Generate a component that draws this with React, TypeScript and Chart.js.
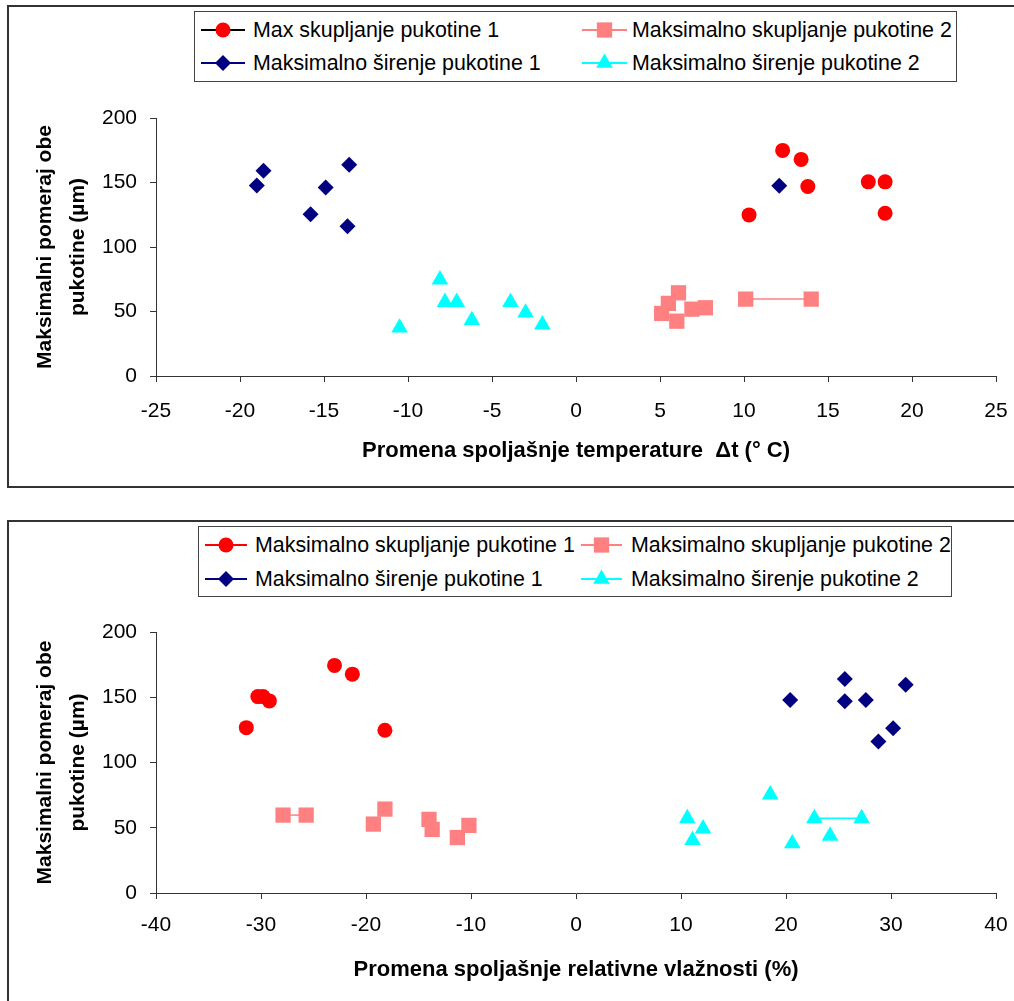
import React, { useEffect, useRef } from "react";
import { Chart, registerables } from "chart.js";

Chart.register(...registerables);

const FONT = "'Liberation Sans', Arial, Helvetica, sans-serif";

// ---------- shared ----------
const yTickValues = [0, 50, 100, 150, 200];
const yTitleLines = ["Maksimalni pomeraj obe", "pukotine (µm)"];
const seriesColors = ["#FF0000", "#FF8080", "#000080", "#00FFFF"];
const seriesShapes = ["circle", "rect", "rectRot", "triangle"];

// ---------- chart 1: temperature ----------
const tempLabels = [
  "Max skupljanje pukotine 1",
  "Maksimalno skupljanje pukotine 2",
  "Maksimalno širenje pukotine 1",
  "Maksimalno širenje pukotine 2",
];
const tempLegendLineColors = ["#000000", "#FF8080", "#000080", "#00FFFF"];
const tempTickValues = [-25, -20, -15, -10, -5, 0, 5, 10, 15, 20, 25];
const tempTitle = "Promena spoljašnje temperature  Δt (° C)";

const tempSkup1X = [12.3, 13.4, 13.8, 10.3, 17.4, 18.4, 18.4];
const tempSkup1Y = [174.9, 167.9, 146.9, 124.9, 150.5, 150.5, 126.2];
const tempSkup2X = [6.1, null, 5.5, null, 5.1, null, 6.0, null, 6.9, null, 7.7, null, 10.1, 14.0];
const tempSkup2Y = [64.5, null, 56.3, null, 48.5, null, 42.5, null, 51.8, null, 52.9, null, 59.6, 59.6];
const tempSir1X = [-19.0, -18.6, -15.8, -14.9, -13.5, -13.6, 12.1];
const tempSir1Y = [147.7, 159.1, 125.4, 146.1, 163.7, 116.1, 147.4];
const tempSir2X = [-10.5, -8.1, -7.8, -7.1, -6.2, -3.9, -3.0, -2.0];
const tempSir2Y = [37.4, 74.7, 57.3, 57.3, 43.2, 57.3, 49.0, 39.8];

// ---------- chart 2: relative humidity ----------
const humLabels = [
  "Maksimalno skupljanje pukotine 1",
  "Maksimalno skupljanje pukotine 2",
  "Maksimalno širenje pukotine 1",
  "Maksimalno širenje pukotine 2",
];
const humLegendLineColors = ["#FF0000", "#FF8080", "#000080", "#00FFFF"];
const humTickValues = [-40, -30, -20, -10, 0, 10, 20, 30, 40];
const humTitle = "Promena spoljašnje relativne vlažnosti (%)";

const humSkup1X = [-31.4, -30.3, -29.8, -29.2, -23.0, -21.3, -18.2];
const humSkup1Y = [126.7, 150.5, 150.5, 147.2, 174.4, 167.7, 124.7];
const humSkup2X = [-27.9, -25.7, null, -19.3, null, -18.2, null, -14.0, null, -13.7, null, -11.3, null, -10.2];
const humSkup2Y = [59.7, 59.7, null, 52.8, null, 64.3, null, 56.4, null, 48.7, null, 42.5, null, 51.8];
const humSir1X = [20.4, 25.6, 25.6, 27.6, 31.4, 30.2, 28.8];
const humSir1Y = [147.8, 163.9, 147.0, 147.8, 159.5, 126.3, 116.0];
const humSir2X = [18.5, null, 10.6, null, 12.1, null, 11.1, null, 20.6, null, 24.2, null, 22.7, 27.2];
const humSir2Y = [75.4, null, 57.2, null, 49.3, null, 40.4, null, 37.9, null, 43.8, null, 57.2, 57.2];

// ---------- rendering helpers ----------
const radiusByShape: Record<string, number> = { circle: 7.5, rect: 10.8, rectRot: 8, triangle: 9.6 };

type Series = {
  label: string;
  xs: (number | null)[];
  ys: (number | null)[];
  color: string;
  shape: string;
  showLine: boolean;
};

type Layout = {
  top: number;
  height: number;
  padTop: number;
  xAxisHeight: number;
  xTickPad: number;
  xTitlePadBottom: number;
};

function ScatterChart(props: {
  series: Series[];
  xTicks: number[];
  xTitle: string;
  layout: Layout;
}) {
  const ref = useRef<HTMLCanvasElement | null>(null);
  const { series, xTicks, xTitle, layout } = props;

  useEffect(() => {
    if (!ref.current) return;
    const tickFont = { family: FONT, size: 21, lineHeight: 1.2 };
    const chart = new Chart(ref.current, {
      type: "scatter",
      data: {
        datasets: series.map((s, i) => ({
          label: s.label,
          data: s.xs.map((x, j) => ({ x: x as any, y: s.ys[j] as any })),
          showLine: s.showLine,
          spanGaps: false,
          borderColor: s.color,
          borderWidth: 1.5,
          backgroundColor: s.color,
          pointBackgroundColor: s.color,
          pointBorderColor: s.color,
          pointBorderWidth: 0,
          pointStyle: s.shape as any,
          pointRadius: radiusByShape[s.shape],
          pointHoverRadius: radiusByShape[s.shape],
          order: 3 - i,
        })),
      },
      options: {
        animation: false,
        responsive: false,
        devicePixelRatio: 1,
        events: [],
        layout: { padding: { top: layout.padTop, right: 18, bottom: 0, left: 0 } },
        plugins: { legend: { display: false }, tooltip: { enabled: false } },
        scales: {
          x: {
            type: "linear",
            min: xTicks[0],
            max: xTicks[xTicks.length - 1],
            afterBuildTicks: (s: any) => {
              s.ticks = xTicks.map((v) => ({ value: v }));
            },
            afterFit: (s: any) => {
              s.height = layout.xAxisHeight;
              s.paddingLeft = 0;
              s.paddingRight = 0;
            },
            grid: { display: true, drawOnChartArea: false, drawTicks: true, tickLength: 6, color: "#333" },
            border: { display: true, color: "#333", width: 1 },
            ticks: { color: "#000", font: tickFont, padding: layout.xTickPad, maxRotation: 0, autoSkip: false },
            title: {
              display: true,
              text: xTitle,
              color: "#000",
              font: { family: FONT, size: 22, weight: "bold", lineHeight: 1.2 },
              padding: { top: 0, bottom: layout.xTitlePadBottom },
            },
          },
          y: {
            type: "linear",
            min: yTickValues[0],
            max: yTickValues[yTickValues.length - 1],
            afterBuildTicks: (s: any) => {
              s.ticks = yTickValues.map((v) => ({ value: v }));
            },
            afterFit: (s: any) => {
              s.width = 156;
              s.paddingTop = 0;
              s.paddingBottom = 0;
            },
            grid: { display: true, drawOnChartArea: false, drawTicks: true, tickLength: 6, color: "#333" },
            border: { display: true, color: "#333", width: 1 },
            ticks: { color: "#000", font: tickFont, padding: 13 },
            title: {
              display: true,
              text: yTitleLines,
              color: "#000",
              font: { family: FONT, size: 21, weight: "bold", lineHeight: 1.571 },
              padding: { top: 28.5, bottom: 0 },
            },
          },
        },
      },
    });
    return () => chart.destroy();
  }, []);

  return (
    <canvas
      ref={ref}
      width={1014}
      height={layout.height}
      style={{ position: "absolute", left: 0, top: layout.top, width: 1014, height: layout.height }}
    />
  );
}

function Marker(props: { shape: string; color: string; cx: number; cy: number }) {
  const { shape, color, cx, cy } = props;
  const r = radiusByShape[shape];
  if (shape === "circle") return <circle cx={cx} cy={cy} r={r} fill={color} />;
  if (shape === "rect") {
    const h = r * Math.SQRT1_2;
    return <rect x={cx - h} y={cy - h} width={2 * h} height={2 * h} fill={color} />;
  }
  if (shape === "rectRot") {
    return <polygon points={`${cx},${cy - r} ${cx + r},${cy} ${cx},${cy + r} ${cx - r},${cy}`} fill={color} />;
  }
  const s = r * Math.sin((2 * Math.PI) / 3);
  return <polygon points={`${cx},${cy - r} ${cx + s},${cy + r / 2} ${cx - s},${cy + r / 2}`} fill={color} />;
}

type LegendLayout = {
  left: number;
  top: number;
  width: number;
  height: number;
  rows: number[];
  lineX: number[];
  lineW: number[];
  textX: number[];
};

function Legend(props: { labels: string[]; lineColors: string[]; layout: LegendLayout }) {
  const { labels, lineColors, layout } = props;
  return (
    <>
      <div
        style={{
          position: "absolute",
          left: layout.left,
          top: layout.top,
          width: layout.width,
          height: layout.height,
          border: "1px solid #444",
          boxSizing: "border-box",
          background: "#fff",
        }}
      />
      {labels.map((label, i) => {
        const row = Math.floor(i / 2);
        const col = i % 2;
        const y = layout.rows[row];
        const lw = layout.lineW[col];
        return (
          <React.Fragment key={label + i}>
            <svg
              width={lw}
              height={24}
              style={{ position: "absolute", left: layout.lineX[col], top: y - 12 }}
            >
              <line x1={0} y1={12} x2={lw} y2={12} stroke={lineColors[i]} strokeWidth={2} />
              <Marker shape={seriesShapes[i]} color={seriesColors[i]} cx={lw / 2} cy={12} />
            </svg>
            <span
              style={{
                position: "absolute",
                left: layout.textX[col],
                top: y - 12,
                height: 24,
                lineHeight: "24px",
                fontSize: 21.4,
                fontFamily: FONT,
                color: "#000",
                whiteSpace: "nowrap",
              }}
            >
              {label}
            </span>
          </React.Fragment>
        );
      })}
    </>
  );
}

export default function App() {
  const tempSeries: Series[] = [
    { label: tempLabels[0], xs: tempSkup1X, ys: tempSkup1Y, color: seriesColors[0], shape: seriesShapes[0], showLine: false },
    { label: tempLabels[1], xs: tempSkup2X, ys: tempSkup2Y, color: seriesColors[1], shape: seriesShapes[1], showLine: true },
    { label: tempLabels[2], xs: tempSir1X, ys: tempSir1Y, color: seriesColors[2], shape: seriesShapes[2], showLine: false },
    { label: tempLabels[3], xs: tempSir2X, ys: tempSir2Y, color: seriesColors[3], shape: seriesShapes[3], showLine: false },
  ];
  const humSeries: Series[] = [
    { label: humLabels[0], xs: humSkup1X, ys: humSkup1Y, color: seriesColors[0], shape: seriesShapes[0], showLine: false },
    { label: humLabels[1], xs: humSkup2X, ys: humSkup2Y, color: seriesColors[1], shape: seriesShapes[1], showLine: true },
    { label: humLabels[2], xs: humSir1X, ys: humSir1Y, color: seriesColors[2], shape: seriesShapes[2], showLine: false },
    { label: humLabels[3], xs: humSir2X, ys: humSir2Y, color: seriesColors[3], shape: seriesShapes[3], showLine: true },
  ];

  return (
    <div
      style={{
        position: "absolute",
        left: 0,
        top: 0,
        width: 1014,
        height: 1001,
        overflow: "hidden",
        background: "#fff",
        fontFamily: FONT,
      }}
    >
      <ScatterChart
        series={tempSeries}
        xTicks={tempTickValues}
        xTitle={tempTitle}
        layout={{ top: 0, height: 490, padTop: 118, xAxisHeight: 114, xTickPad: 17, xTitlePadBottom: 26 }}
      />
      <ScatterChart
        series={humSeries}
        xTicks={humTickValues}
        xTitle={humTitle}
        layout={{ top: 500, height: 501, padTop: 132, xAxisHeight: 108, xTickPad: 14, xTitlePadBottom: 18 }}
      />
      <div
        style={{
          position: "absolute",
          left: 7,
          top: 5,
          width: 1020,
          height: 483,
          border: "2px solid #333",
          boxSizing: "border-box",
          pointerEvents: "none",
        }}
      />
      <div
        style={{
          position: "absolute",
          left: 7,
          top: 520,
          width: 1020,
          height: 500,
          border: "2px solid #333",
          boxSizing: "border-box",
          pointerEvents: "none",
        }}
      />
      <Legend
        labels={tempLabels}
        lineColors={tempLegendLineColors}
        layout={{ left: 194, top: 11, width: 763, height: 71, rows: [30, 63], lineX: [201, 582], lineW: [44, 45], textX: [253, 632] }}
      />
      <Legend
        labels={humLabels}
        lineColors={humLegendLineColors}
        layout={{ left: 198, top: 526, width: 754, height: 71, rows: [545, 579], lineX: [205, 581], lineW: [42, 41], textX: [255, 631] }}
      />
    </div>
  );
}
